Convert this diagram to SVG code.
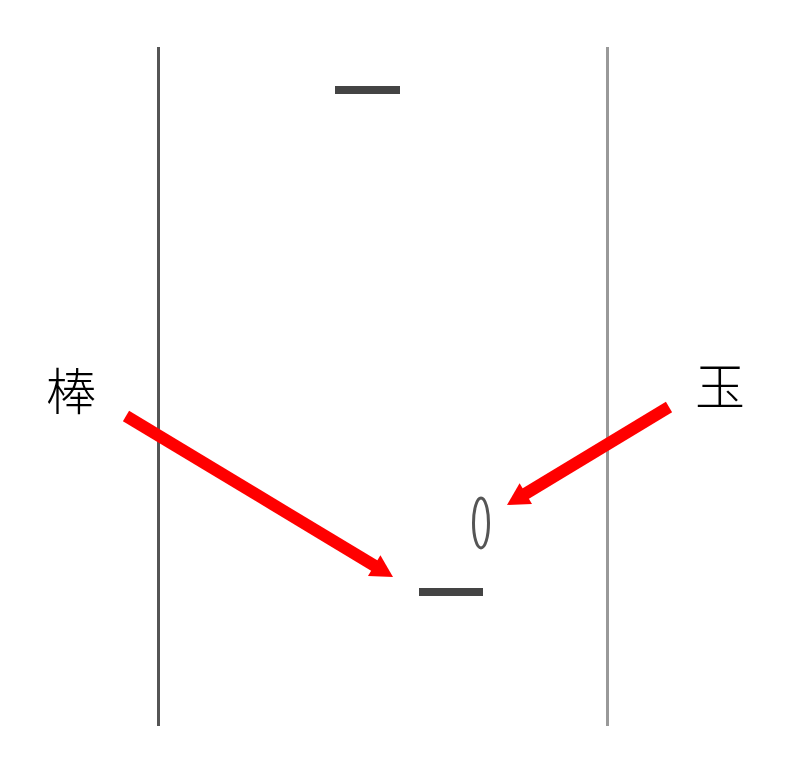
<svg xmlns="http://www.w3.org/2000/svg" width="787" height="765" viewBox="0 0 787 765">
<style>
.lbl{font-family:"Noto Sans CJK JP","Noto Sans CJK SC",sans-serif;font-size:50px;font-weight:300;fill:#000}
.bar{fill:#444}
.arr{stroke:#ff0000;stroke-width:12;fill:none}
.head{fill:#ff0000}
</style>
<rect width="787" height="765" fill="#fff"/>
<g id="wall-left"><line x1="158.5" y1="47" x2="158.5" y2="726" stroke="#555" stroke-width="3"/></g>
<g id="wall-right"><line x1="607.5" y1="47" x2="607.5" y2="726" stroke="#999" stroke-width="3"/></g>
<g id="bar-top"><rect class="bar" x="335" y="86" width="65" height="8"/></g>
<g id="bar-bottom"><rect class="bar" x="419" y="588" width="64" height="8"/></g>
<g id="ball"><ellipse cx="481" cy="523" rx="7.5" ry="25" fill="none" stroke="#555" stroke-width="3"/></g>
<g id="label-bou"><text class="lbl" x="46" y="410">棒</text></g>
<g id="label-tama"><text class="lbl" x="695" y="405">玉</text></g>
<g id="connectors">
<line class="arr" x1="126" y1="416" x2="375" y2="566"/>
<polygon class="head" points="393,577 368,575.9 380.4,555.3"/>
<line class="arr" x1="669" y1="407" x2="525" y2="494"/>
<polygon class="head" points="507,505 519.6,483.3 532,503.9"/>
</g>
</svg>
